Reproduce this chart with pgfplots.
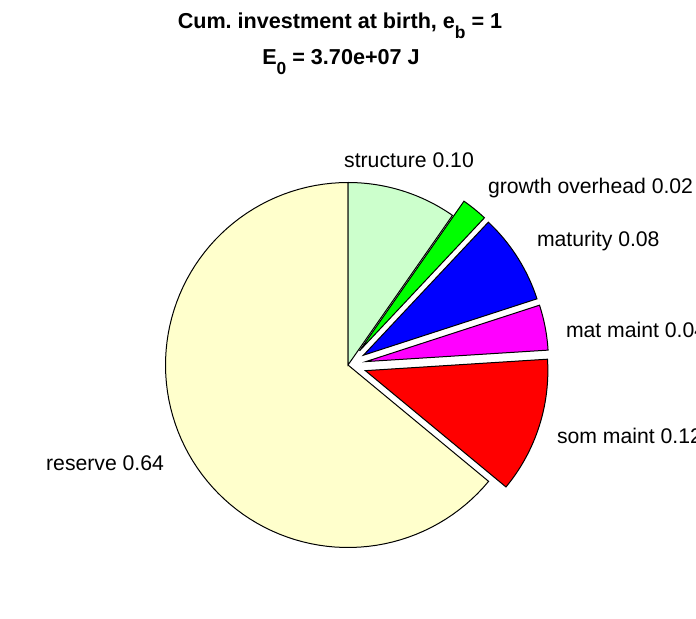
\documentclass[border=0pt]{standalone}
\usepackage{pgfplots}
\pgfplotsset{compat=1.18}
\usepackage{fontspec}
\setmainfont{Liberation Sans}
\frenchspacing

\definecolor{cReserve}{RGB}{255,255,204}
\definecolor{cSom}{RGB}{255,0,0}
\definecolor{cMat}{RGB}{255,0,255}
\definecolor{cMaturity}{RGB}{0,0,255}
\definecolor{cGrowth}{RGB}{0,255,0}
\definecolor{cStruct}{RGB}{204,255,204}

% pie in pixel units: centre (348,253), radius 182.5, explode offset 0.1 r
% #1 cumulative fraction before the slice, #2 fraction, #3 colour, #4 explode (0/1)
\newcommand{\pieslice}[4]{%
  \addplot[draw=black, line width=0.5pt, fill=#3,
    domain={90+360*(#1)}:{90+360*(#1+#2)}, samples=90, variable=\t]
    ({348+#4*18.25*cos(90+360*(#1+#2/2))+182.5*cos(\t)},
     {253+#4*18.25*sin(90+360*(#1+#2/2))+182.5*sin(\t)})
    -- (axis cs:{348+#4*18.25*cos(90+360*(#1+#2/2))},{253+#4*18.25*sin(90+360*(#1+#2/2))})
    -- cycle;
}

\tikzset{lbl/.style={font=\fontsize{10.6}{12}\selectfont, inner sep=0pt, outer sep=0pt},
         ttl/.style={font=\bfseries\fontsize{10.8}{12}\selectfont, inner sep=0pt, outer sep=0pt, anchor=base}}

\begin{document}
\begin{tikzpicture}
\begin{axis}[
    width=348pt, height=309pt,
    scale only axis,
    xmin=0, xmax=696, ymin=0, ymax=618,
    hide axis,
    clip=false,
]
% fractions: reserve, som maint, mat maint, maturity, growth overhead, structure
\pieslice{0}{0.64}{cReserve}{0}
\pieslice{0.64}{0.12}{cSom}{1}
\pieslice{0.76}{0.04}{cMat}{1}
\pieslice{0.80}{0.08}{cMaturity}{1}
\pieslice{0.88}{0.023}{cGrowth}{1}
\pieslice{0.903}{0.097}{cStruct}{0}

\node[lbl, anchor=base] at (axis cs:409,{618-167}) {structure 0.10};
\node[lbl, anchor=base west] at (axis cs:488,{618-193.3}) {growth overhead 0.02};
\node[lbl, anchor=base west] at (axis cs:537,{618-246}) {maturity 0.08};
\node[lbl, anchor=base west] at (axis cs:566,{618-337.7}) {mat maint 0.04};
\node[lbl, anchor=base west] at (axis cs:557,{618-443.3}) {som maint 0.12};
\node[lbl, anchor=base east] at (axis cs:164,{618-470}) {reserve 0.64};

\node[ttl] at (axis cs:340,{618-28.3})
  {Cum.\ investment at birth, e\raisebox{-0.45em}{\fontsize{8.7}{8.7}\selectfont b} = 1};
\node[ttl] at (axis cs:341,{618-65})
  {E\raisebox{-0.45em}{\fontsize{8.7}{8.7}\selectfont 0} = 3.70e+07 J};

\coordinate (bl) at (axis cs:0,0);
\coordinate (tr) at (axis cs:696,618);
\end{axis}
\pgfresetboundingbox
\path[use as bounding box] (bl) rectangle (tr);
\end{tikzpicture}
\end{document}
